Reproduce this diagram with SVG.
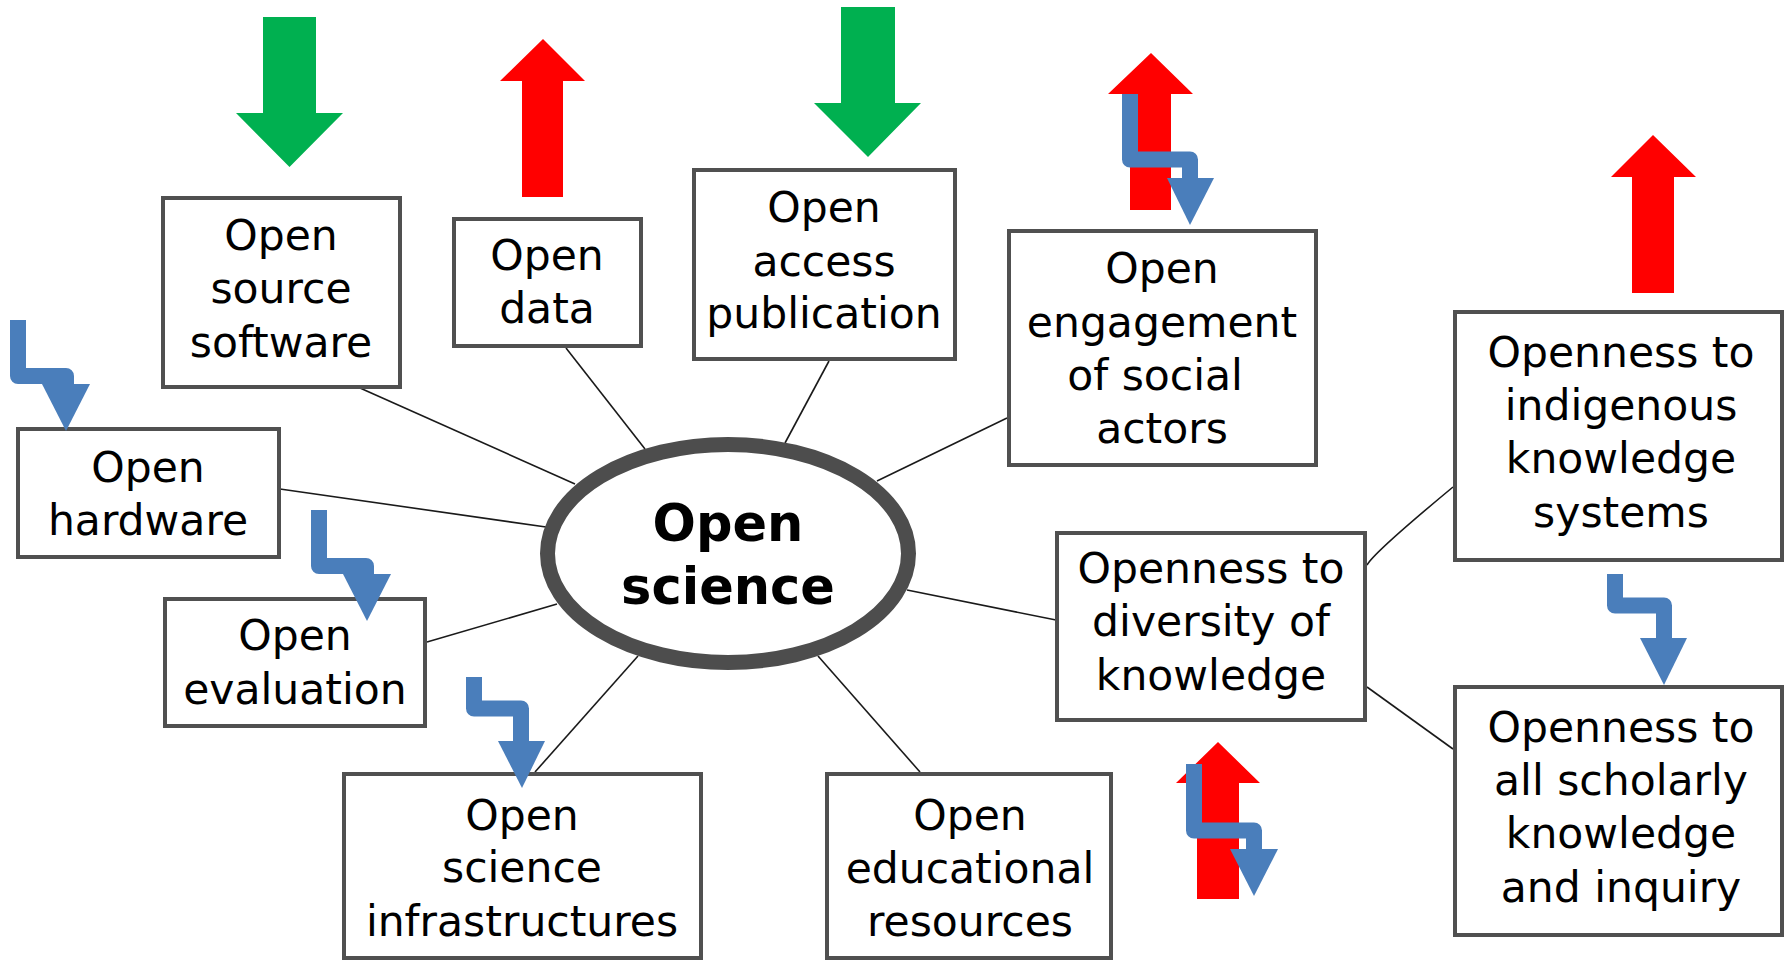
<svg xmlns="http://www.w3.org/2000/svg" width="1786" height="963" viewBox="0 0 1786 963">
<style>
.box{fill:#fff;stroke:#505050;stroke-width:4}
.lbl{font-family:"DejaVu Sans","Liberation Sans",sans-serif;font-size:42.5px;fill:#000;text-anchor:middle}
.big{font-family:"DejaVu Sans","Liberation Sans",sans-serif;font-size:51px;font-weight:bold;fill:#000;text-anchor:middle}
.con{fill:none;stroke:#1a1a1a;stroke-width:1.6}
.red{fill:#ff0000}
.green{fill:#00b050}
.bshaft{fill:none;stroke:#4a7ebb;stroke-width:16;stroke-linejoin:round}
.bhead{fill:#4a7ebb}
</style>
<rect width="1786" height="963" fill="#fff"/>
<g id="connectors">
<path class="con" d="M360,388 L575,484"/>
<path class="con" d="M566,348 L645,449"/>
<path class="con" d="M829,361 L785,443"/>
<path class="con" d="M1007,418 L877,481"/>
<path class="con" d="M280,489 L546,527"/>
<path class="con" d="M427,642 L557,604"/>
<path class="con" d="M535,772 L638,656"/>
<path class="con" d="M920,772 L818,656"/>
<path class="con" d="M1056,620 L907,590"/>
<path class="con" d="M1367,565 C1372,556 1395,535 1453,487"/>
<path class="con" d="M1367,687 L1453,749"/>
</g>
<g id="center">
<ellipse cx="728" cy="553.5" rx="180.5" ry="109" fill="#fff" stroke="#4d4d4d" stroke-width="15"/>
<text class="big"><tspan x="728" y="541">Open</tspan><tspan x="728" y="604">science</tspan></text>
</g>
<g id="open-source-software">
<rect class="box" x="163" y="198" width="237" height="189"/>
<text class="lbl"><tspan x="281" y="250">Open</tspan><tspan x="281" y="303">source</tspan><tspan x="281" y="357">software</tspan></text>
</g>
<g id="open-data">
<rect class="box" x="454" y="219" width="187" height="127"/>
<text class="lbl"><tspan x="547" y="270">Open</tspan><tspan x="547" y="323">data</tspan></text>
</g>
<g id="open-access">
<rect class="box" x="694" y="170" width="261" height="189"/>
<text class="lbl"><tspan x="824" y="222">Open</tspan><tspan x="824" y="276">access</tspan><tspan x="824" y="328">publication</tspan></text>
</g>
<g id="open-engagement">
<rect class="box" x="1009" y="231" width="307" height="234"/>
<text class="lbl"><tspan x="1162" y="283">Open</tspan><tspan x="1162" y="337">engagement</tspan><tspan x="1155" y="390">of social</tspan><tspan x="1162" y="443">actors</tspan></text>
</g>
<g id="openness-indigenous">
<rect class="box" x="1455" y="312" width="327" height="248"/>
<text class="lbl"><tspan x="1621" y="367">Openness to</tspan><tspan x="1621" y="420">indigenous</tspan><tspan x="1621" y="473">knowledge</tspan><tspan x="1621" y="527">systems</tspan></text>
</g>
<g id="open-hardware">
<rect class="box" x="18" y="429" width="261" height="128"/>
<text class="lbl"><tspan x="148" y="482">Open</tspan><tspan x="148" y="535">hardware</tspan></text>
</g>
<g id="open-evaluation">
<rect class="box" x="165" y="599" width="260" height="127"/>
<text class="lbl"><tspan x="295" y="650">Open</tspan><tspan x="295" y="704">evaluation</tspan></text>
</g>
<g id="openness-diversity">
<rect class="box" x="1057" y="533" width="308" height="187"/>
<text class="lbl"><tspan x="1211" y="583">Openness to</tspan><tspan x="1211" y="636">diversity of</tspan><tspan x="1211" y="690">knowledge</tspan></text>
</g>
<g id="open-infrastructures">
<rect class="box" x="344" y="774" width="357" height="184"/>
<text class="lbl"><tspan x="522" y="830">Open</tspan><tspan x="522" y="882">science</tspan><tspan x="522" y="936">infrastructures</tspan></text>
</g>
<g id="open-educational">
<rect class="box" x="827" y="774" width="284" height="184"/>
<text class="lbl"><tspan x="970" y="830">Open</tspan><tspan x="970" y="883">educational</tspan><tspan x="970" y="936">resources</tspan></text>
</g>
<g id="openness-scholarly">
<rect class="box" x="1455" y="687" width="327" height="248"/>
<text class="lbl"><tspan x="1621" y="742">Openness to</tspan><tspan x="1621" y="795">all scholarly</tspan><tspan x="1621" y="848">knowledge</tspan><tspan x="1621" y="902">and inquiry</tspan></text>
</g>
<g id="trend-arrows">
<polygon class="green" points="263,17 316,17 316,113 343,113 289.5,167 236,113 263,113"/>
<polygon class="green" points="841,7 895,7 895,103 921,103 868,157 814,103 841,103"/>
<polygon class="red" points="543,39 585,81 563,81 563,197 522,197 522,81 500,81"/>
<polygon class="red" points="1151,53 1193,94 1171,94 1171,210 1130,210 1130,94 1108,94"/>
<polygon class="red" points="1653,135 1696,177 1674,177 1674,293 1632,293 1632,177 1611,177"/>
<polygon class="red" points="1218,742 1260,783 1239,783 1239,899 1197,899 1197,783 1176,783"/>
<path class="bshaft" d="M18,320 V376 H66 V385"/>
<polygon class="bhead" points="42,384 90,384 66,431"/>
<path class="bshaft" d="M319,510 V566 H366 V575"/>
<polygon class="bhead" points="343,574 391,574 367,621"/>
<path class="bshaft" d="M474,677 V708.5 H521 V742"/>
<polygon class="bhead" points="498,741 545,741 522,788"/>
<path class="bshaft" d="M1130,94 V159.5 H1190 V179"/>
<polygon class="bhead" points="1167,178 1214,178 1190,225"/>
<path class="bshaft" d="M1615,574 V605.5 H1664 V639"/>
<polygon class="bhead" points="1640,638 1687,638 1664,685"/>
<path class="bshaft" d="M1194,764 V830.5 H1254 V850"/>
<polygon class="bhead" points="1230,849 1278,849 1254,896"/>
</g>
</svg>
